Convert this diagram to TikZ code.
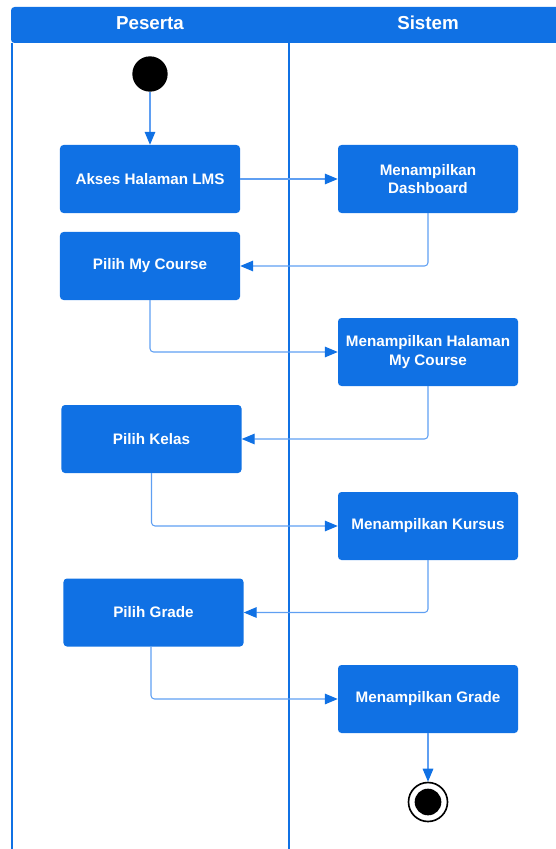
\documentclass[tikz,border=0pt]{standalone}
\usepackage{fontspec}
\setmainfont{Liberation Sans}
\usepackage{xcolor}
\usetikzlibrary{arrows.meta, positioning}

\definecolor{birulms}{HTML}{1071E4}
\definecolor{birugaris}{HTML}{5F9FF2}

\tikzset{
    aksi/.style={rectangle, rounded corners=3pt, fill=birulms, text=white,
        minimum width=5.4cm, minimum height=2.04cm, inner sep=2pt, align=center,
        font=\fontsize{13}{15.5}\selectfont\bfseries},
    judul/.style={text=white, font=\fontsize{16}{19}\selectfont\bfseries},
    alur/.style={draw=birugaris, line width=0.9pt, rounded corners=3pt,
        -{Triangle[length=0.39cm, width=0.32cm, color=birulms]}},
    titikawal/.style={circle, fill=black, minimum size=1.06cm, inner sep=0pt},
    titikakhir/.style={circle, draw=black, line width=1.4pt, fill=white,
        minimum size=1.17cm, inner sep=0pt}
}

\begin{document}
\begin{tikzpicture}[x=0.03cm, y=-0.03cm]
    \useasboundingbox (0,0) rectangle (555,849);

    % 1. Kepala swimlane (Peserta | Sistem)
    \fill[birulms, rounded corners=3pt] (11,43) -- (11,7) -- (575,7) -- (575,43) -- cycle;
    \node[judul] (peserta) at (150,23) {Peserta};
    \node[judul] (sistem) at (428,23) {Sistem};

    % garis batas lajur
    \draw[birulms, line width=1.5pt] (12,43) -- (12,849);
    \draw[birulms, line width=1.7pt] (289,43) -- (289,849);

    % 2. Titik awal dan aktivitas
    \node[titikawal] (mulai) at (150,74) {};
    \node[aksi] (akses) at (150,179) {Akses Halaman LMS};
    \node[aksi] (dashboard) at (428,179) {Menampilkan\\Dashboard};
    \node[aksi] (mycourse) at (150,266) {Pilih My Course};
    \node[aksi] (halcourse) at (428,352) {Menampilkan Halaman\\My Course};
    \node[aksi] (kelas) at (151.5,439) {Pilih Kelas};
    \node[aksi] (kursus) at (428,526) {Menampilkan Kursus};
    \node[aksi] (grade) at (153.5,612.5) {Pilih Grade};
    \node[aksi] (tampilgrade) at (428,699) {Menampilkan Grade};

    % titik akhir
    \node[titikakhir] (selesai) at (428,802) {};
    \fill[black] (selesai.center) circle[radius=0.4cm];

    % 3. Alur antar aktivitas
    \draw[alur] (mulai) -- (akses);
    \draw[alur] (akses) -- (dashboard);
    \draw[alur] (dashboard) |- (mycourse);
    \draw[alur] (mycourse) |- (halcourse);
    \draw[alur] (halcourse) |- (kelas);
    \draw[alur] (kelas) |- (kursus);
    \draw[alur] (kursus) |- (grade);
    \draw[alur] ([xshift=-0.075cm]grade.south) |- (tampilgrade);
    \draw[alur] (tampilgrade) -- (selesai);

\end{tikzpicture}
\end{document}
